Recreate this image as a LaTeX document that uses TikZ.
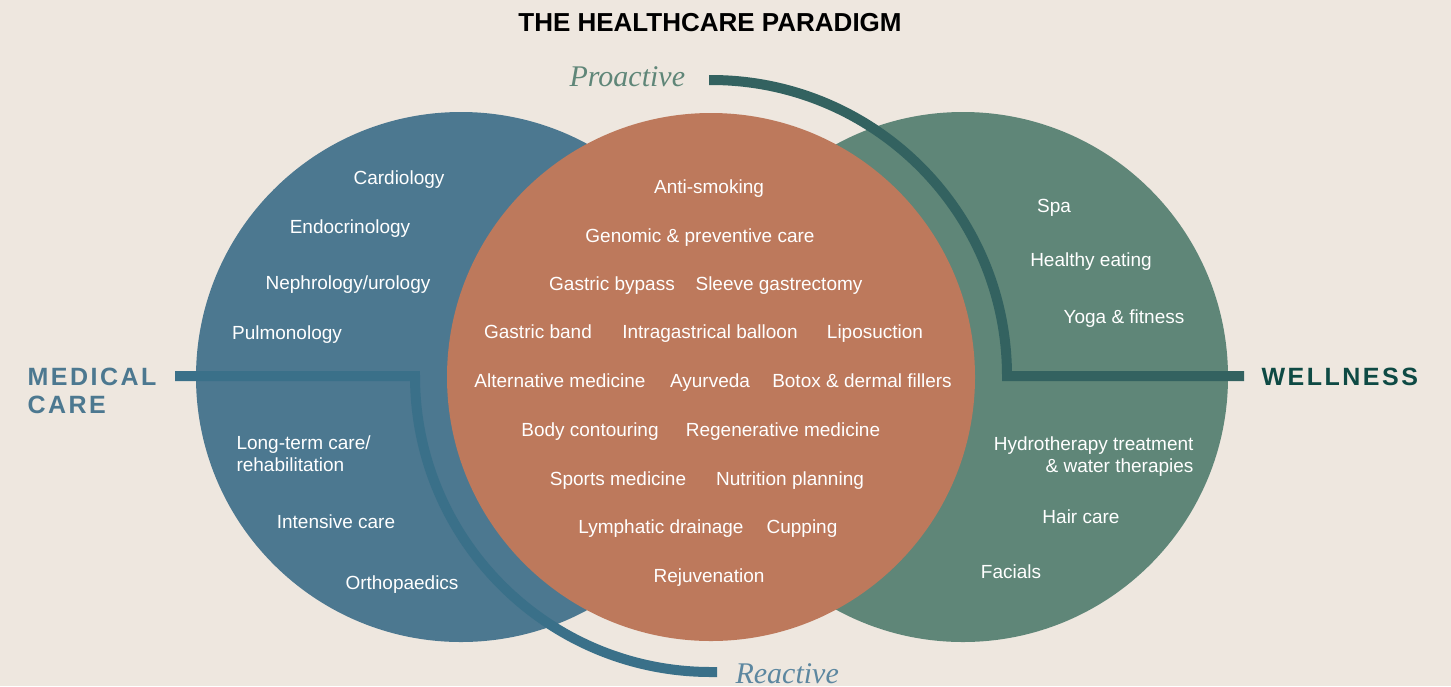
\documentclass[tikz,border=0pt]{standalone}
\usepackage{fontspec}
\setmainfont{Liberation Sans}
\newfontfamily\italicserif{Liberation Serif}
\newfontfamily\spacedsans[LetterSpace=10]{Liberation Sans}
\usepackage{xcolor}
\usetikzlibrary{positioning}
\definecolor{paradigmbg}{HTML}{EEE7DF}
\definecolor{medicalblue}{HTML}{4C7890}
\definecolor{medicalline}{HTML}{3A7089}
\definecolor{overlapclay}{HTML}{BD795C}
\definecolor{wellnessgreen}{HTML}{5F8678}
\definecolor{wellnessline}{HTML}{336260}
\definecolor{wellnessdark}{HTML}{0E4A44}
\definecolor{reactiveblue}{HTML}{5C87A0}

\tikzset{
  item/.style={text=white, anchor=base, font=\fontsize{19}{22}\selectfont},
  heading/.style={anchor=base west, font=\spacedsans\bfseries\fontsize{25}{28}\selectfont},
  timing/.style={anchor=base west, font=\italicserif\itshape\fontsize{30}{32}\selectfont},
  frame/.style={line width=10pt}
}

\begin{document}
\begin{tikzpicture}[x=1pt, y=-1pt]
    % Background
    \fill[paradigmbg] (0,0) rectangle (1451,686);
    \node[anchor=base, font=\bfseries\fontsize{26}{30}\selectfont] (title) at (710,31) {THE HEALTHCARE PARADIGM};

    % Circles
    \fill[medicalblue] (461,377) circle (265pt);
    \fill[wellnessgreen] (963,377) circle (265pt);
    \fill[overlapclay] (711,377) circle (264pt);

    % Side labels
    \node[heading, text=medicalblue, align=left] (medical) at (24,413) {MEDICAL\\CARE};
    \node[heading, text=wellnessdark] (wellness) at (1258,385) {WELLNESS};
    \node[timing, text=wellnessgreen] (proactive) at (566,86) {Proactive};
    \node[timing, text=reactiveblue] (reactive) at (732,683) {Reactive};

    % Proactive / reactive lines
    \coordinate (proend) at (709,80);
    \coordinate (wellend) at (1244,376);
    \coordinate (medend) at (175,376);
    \coordinate (reaend) at (717,672);
    \draw[frame, wellnessline] (proend) -- (711,80) arc[start angle=90, end angle=0, radius=296pt] -- (wellend);
    \draw[frame, medicalline] (medend) -- (415,376) arc[start angle=180, end angle=270, radius=296pt] -- (reaend);

    % Medical care
    \node[item] (cardio) at (399,184) {Cardiology};
    \node[item] (endo) at (350,233) {Endocrinology};
    \node[item] (nephro) at (348,289) {Nephrology/urology};
    \node[item] (pulmo) at (287,339) {Pulmonology};
    \node[item, anchor=base west, align=left] (longterm) at (233,471) {Long-term care/\\rehabilitation};
    \node[item] (intensive) at (336,528) {Intensive care};
    \node[item] (ortho) at (402,589) {Orthopaedics};

    % Overlap
    \node[item] (antismoke) at (709,193) {Anti-smoking};
    \node[item] (genomic) at (700,242) {Genomic \& preventive care};
    \node[item] (bypass) at (612,290) {Gastric bypass};
    \node[item] (sleeve) at (779,290) {Sleeve gastrectomy};
    \node[item] (band) at (538,338) {Gastric band};
    \node[item] (balloon) at (710,338) {Intragastrical balloon};
    \node[item] (lipo) at (875,338) {Liposuction};
    \node[item] (altmed) at (560,387) {Alternative medicine};
    \node[item] (ayur) at (710,387) {Ayurveda};
    \node[item] (botox) at (862,387) {Botox \& dermal fillers};
    \node[item] (contour) at (590,436) {Body contouring};
    \node[item] (regen) at (783,436) {Regenerative medicine};
    \node[item] (sports) at (618,485) {Sports medicine};
    \node[item] (nutrition) at (790,485) {Nutrition planning};
    \node[item] (lymph) at (661,533) {Lymphatic drainage};
    \node[item] (cupping) at (802,533) {Cupping};
    \node[item] (rejuv) at (709,582) {Rejuvenation};

    % Wellness
    \node[item] (spa) at (1054,212) {Spa};
    \node[item] (eating) at (1091,266) {Healthy eating};
    \node[item] (yoga) at (1124,323) {Yoga \& fitness};
    \node[item, anchor=base east, align=right] (hydro) at (1197,472) {Hydrotherapy treatment\\\& water therapies};
    \node[item] (hair) at (1081,523) {Hair care};
    \node[item] (facials) at (1011,578) {Facials};
\end{tikzpicture}
\end{document}
